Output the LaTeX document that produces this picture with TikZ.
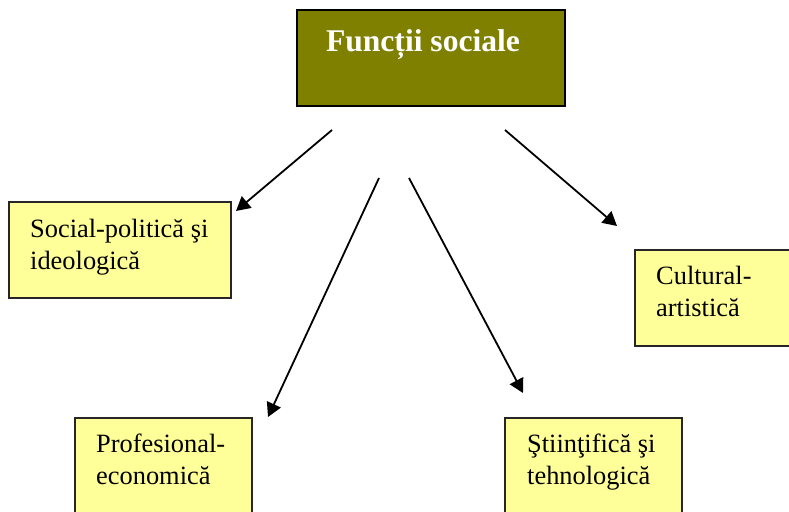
\documentclass[tikz,border=0pt]{standalone}
\usepackage{fontspec}
\setmainfont{Liberation Serif}
\usetikzlibrary{arrows.meta}
\definecolor{olivebox}{HTML}{808000}
\definecolor{paleyellow}{HTML}{FFFF99}
\newcommand{\twolines}[2]{\begin{tabular}[t]{@{}l@{}}#1\\#2\end{tabular}}
\begin{document}
\begin{tikzpicture}[x=1pt,y=1pt,
  topbox/.style={draw=black,line width=2pt,fill=olivebox,inner sep=0pt},
  leafbox/.style={draw=black!85,line width=2pt,fill=paleyellow,inner sep=0pt},
  leaftext/.style={anchor=base west,inner sep=0pt,font=\fontsize{26.4}{31.5}\selectfont},
  conn/.style={line width=1.8pt,-{Triangle[length=14pt,width=15pt]}}]
\useasboundingbox (0,0) rectangle (789,511);
\clip (0,0) rectangle (789,511);
% boxes
\node[topbox,minimum width=268pt,minimum height=96pt] (top) at (431,453) {};
\node[anchor=base,inner sep=0pt,text=white,font=\fontsize{31.6}{36}\selectfont\bfseries] (toptext) at (423,459) {Funcții sociale};
\node[leafbox,minimum width=222pt,minimum height=96pt] (soc) at (120,261) {};
\node[leaftext] (soctext) at (30,273) {\twolines{Social-politică şi}{ideologică}};
\node[leafbox,minimum width=170pt,minimum height=96pt] (cult) at (720,213) {};
\node[leaftext] (culttext) at (656,226) {\twolines{Cultural-}{artistică}};
\node[leafbox,minimum width=177pt,minimum height=110pt] (prof) at (163.5,38) {};
\node[leaftext] (proftext) at (96,58) {\twolines{Profesional-}{economică}};
\node[leafbox,minimum width=177pt,minimum height=110pt] (stiin) at (593.5,38) {};
\node[leaftext] (stiintext) at (527,58) {\twolines{Ştiinţifică şi}{tehnologică}};
% connector ends
\coordinate (a1s) at (332,381); \coordinate (a1e) at (236,300);
\coordinate (a2s) at (379,333); \coordinate (a2e) at (268,94);
\coordinate (a3s) at (409,333); \coordinate (a3e) at (523,118);
\coordinate (a4s) at (505,381); \coordinate (a4e) at (617,285);
\draw[conn] (a1s) -- (a1e);
\draw[conn] (a2s) -- (a2e);
\draw[conn] (a3s) -- (a3e);
\draw[conn] (a4s) -- (a4e);
\end{tikzpicture}
\end{document}
